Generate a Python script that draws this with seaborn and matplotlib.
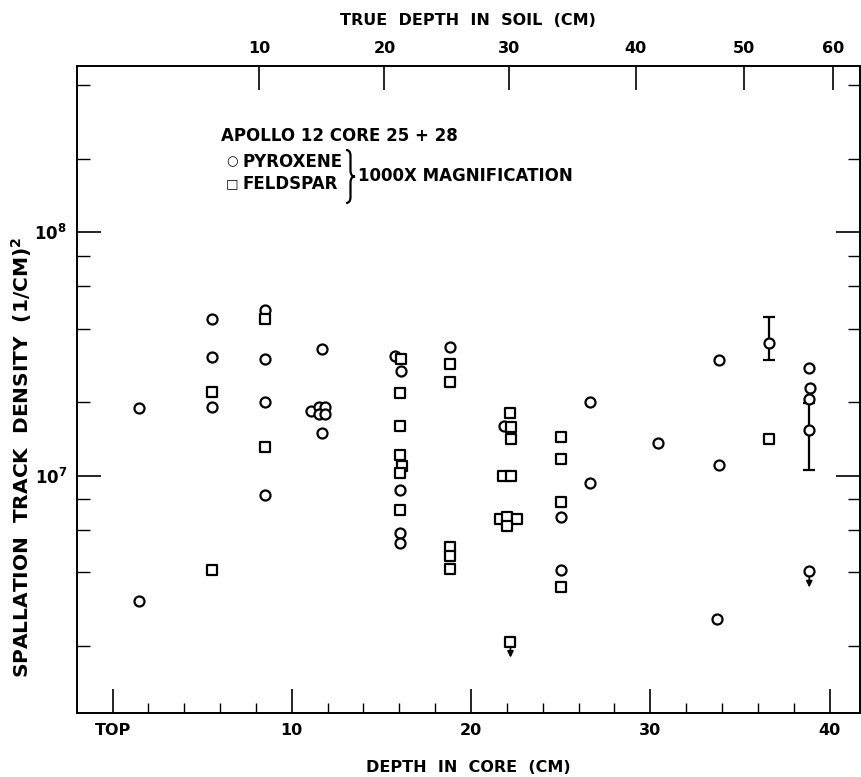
import numpy as np
import pandas as pd
import matplotlib
matplotlib.use("Agg")
import matplotlib.pyplot as plt
from matplotlib.path import Path
from matplotlib.patches import PathPatch
import seaborn as sns

# ---------------- data ----------------
pyx_depth = [1.5, 1.5, 5.55, 5.55, 5.55, 8.53, 8.53, 8.53, 8.53,
             11.66, 11.07, 11.52, 11.88, 11.52, 11.88, 11.66,
             15.78, 16.10, 16.06, 16.02, 16.06, 18.85, 21.82, 25.0, 25.0,
             26.66, 26.66, 30.41, 33.83, 33.83, 33.72, 36.64,
             38.87, 38.93, 38.87, 38.87, 38.87]
pyx_density = [1.90e7, 3.06e6, 4.40e7, 3.08e7, 1.92e7, 4.80e7, 3.00e7, 2.00e7, 8.36e6,
               3.32e7, 1.84e7, 1.91e7, 1.91e7, 1.79e7, 1.79e7, 1.50e7,
               3.11e7, 2.68e7, 8.71e6, 5.83e6, 5.31e6, 3.38e7, 1.60e7, 6.79e6, 4.10e6,
               2.01e7, 9.31e6, 1.36e7, 2.98e7, 1.11e7, 2.57e6, 3.51e7,
               2.77e7, 2.28e7, 2.07e7, 1.54e7, 4.04e6]

fel_depth = [5.55, 5.55, 8.53, 8.53,
             16.12, 16.06, 16.06, 16.06, 16.14, 16.06, 16.06,
             18.85, 18.85, 18.85, 18.85, 18.85,
             22.20, 22.25, 22.25, 21.78, 22.23, 21.60, 22.03, 22.55, 21.99, 22.20,
             25.0, 25.0, 25.0, 25.0, 36.64]
fel_density = [2.21e7, 4.10e6, 4.38e7, 1.31e7,
               3.00e7, 2.18e7, 1.59e7, 1.21e7, 1.096e7, 1.02e7, 7.23e6,
               2.87e7, 2.42e7, 5.08e6, 4.69e6, 4.13e6,
               1.80e7, 1.58e7, 1.41e7, 1.00e7, 1.00e7, 6.62e6, 6.79e6, 6.62e6, 6.22e6, 2.08e6,
               1.44e7, 1.17e7, 7.78e6, 3.50e6, 1.41e7]

# upper limits (points with a downward arrow)
lim_depth = [22.20, 38.87]
lim_density = [2.08e6, 4.04e6]

# error bars
err_depth = [36.64, 38.87]
err_low = [2.98e7, 1.05e7]
err_high = [4.47e7, 1.99e7]

# axes ticks
core_ticks = [0, 10, 20, 30, 40]
core_labels = ["TOP", "10", "20", "30", "40"]
core_minor = [2, 4, 6, 8, 12, 14, 16, 18, 22, 24, 26, 28, 32, 34, 36, 38]
true_labels = ["10", "20", "30", "40", "50", "60"]
true_pos_in_core = [8.16, 15.17, 22.10, 29.19, 35.23, 40.21]
y_major = [1e7, 1e8]
y_major_labels = [r"$\mathregular{10^7}$", r"$\mathregular{10^8}$"]
y_minor = [2e6, 4e6, 6e6, 8e6, 2e7, 4e7, 6e7, 8e7, 2e8, 4e8]

# ---------------- style ----------------
sns.set_theme(style="white")
plt.rcParams["font.family"] = ["DejaVu Sans"]
plt.rcParams["font.weight"] = "bold"
plt.rcParams["axes.labelweight"] = "bold"
plt.rcParams["mathtext.fontset"] = "custom"
plt.rcParams["mathtext.rm"] = "DejaVu Sans:bold"
for k in ["text.color", "axes.labelcolor", "xtick.color", "ytick.color", "axes.edgecolor"]:
    plt.rcParams[k] = "black"

W, H = 861, 777
fig = plt.figure(figsize=(W / 100, H / 100), dpi=100)
ax = fig.add_axes([76.7 / W, 1 - 713 / H, (860 - 76.7) / W, (713 - 66) / H])

df_p = pd.DataFrame({"depth": pyx_depth, "density": pyx_density})
df_f = pd.DataFrame({"depth": fel_depth, "density": fel_density})

# error bars first (behind markers)
for xd, lo, hi in zip(err_depth, err_low, err_high):
    ax.vlines(xd, lo, hi, color="black", lw=1.6, zorder=2)
    ax.plot([xd, xd], [lo, hi], marker="_", ms=9, mew=1.6, color="black", ls="none", zorder=2)

sns.scatterplot(data=df_p, x="depth", y="density", marker="o", s=52,
                color="white", edgecolor="black", linewidth=1.6, ax=ax, zorder=3, legend=False)
sns.scatterplot(data=df_f, x="depth", y="density", marker="s", s=44,
                color="white", edgecolor="black", linewidth=1.6, ax=ax, zorder=3, legend=False)

# downward arrows below upper-limit points
for xd, yd in zip(lim_depth, lim_density):
    ax.annotate("", xy=(xd, yd * 0.86), xytext=(xd, yd * 0.955),
                arrowprops=dict(arrowstyle="-|>", color="black", lw=1.2,
                                mutation_scale=9, shrinkA=0, shrinkB=0), zorder=4)

ax.set_yscale("log")
ax.set_xlim(-2.0, 41.7)
ax.set_ylim(1.06e6, 4.8e8)

ax.set_xticks(core_ticks)
ax.set_xticklabels(core_labels)
ax.set_xticks(core_minor, minor=True)
ax.set_yticks(y_major)
ax.set_yticklabels(y_major_labels)
ax.set_yticks(y_minor, minor=True)
ax.yaxis.set_minor_formatter(plt.NullFormatter())

ax.tick_params(axis="x", which="major", direction="in", length=17, width=1.2,
               labelsize=11.5, pad=7, bottom=True, top=False)
ax.tick_params(axis="x", which="minor", direction="in", length=7, width=1.0,
               bottom=True, top=False)
ax.tick_params(axis="y", which="major", direction="in", length=17, width=1.2,
               labelsize=12, pad=7, left=True, right=True)
ax.tick_params(axis="y", which="minor", direction="in", length=9, width=1.0,
               left=True, right=True)

for sp in ax.spines.values():
    sp.set_color("black")
    sp.set_linewidth(1.4)

ax.set_xlabel("DEPTH  IN  CORE  (CM)", fontsize=11.5, fontweight="bold", labelpad=16)
ax.set_ylabel("SPALLATION  TRACK  DENSITY  (1/CM)$\\mathregular{^2}$", fontsize=14.5,
              fontweight="bold")
ax.yaxis.set_label_coords(-0.054, 0.395)

# top axis: true depth in soil
ax2 = ax.twiny()
ax2.set_xlim(ax.get_xlim())
ax2.set_xticks(true_pos_in_core)
ax2.set_xticklabels(true_labels)
ax2.tick_params(axis="x", direction="in", length=17, width=1.2, labelsize=11.5, pad=7)
ax2.set_xlabel("TRUE  DEPTH  IN  SOIL  (CM)", fontsize=11.5, fontweight="bold", labelpad=12)
for sp in ax2.spines.values():
    sp.set_visible(False)

# legend block written as text
def fx(px):
    return px / W

def fy(py):
    return 1 - py / H

fig.text(fx(221), fy(136), "APOLLO 12 CORE 25 + 28", fontsize=12, va="center", ha="left")
fig.text(fx(226), fy(162), "○", fontsize=9.5, va="center", ha="left", fontweight="normal")
fig.text(fx(243), fy(162), "PYROXENE", fontsize=12, va="center", ha="left")
fig.text(fx(226), fy(184), "□", fontsize=9.5, va="center", ha="left", fontweight="normal")
fig.text(fx(243), fy(184), "FELDSPAR", fontsize=12, va="center", ha="left")
fig.text(fx(358), fy(176), "1000X MAGNIFICATION", fontsize=12, va="center", ha="left")

# curly brace "}" joining the two minerals
bx0, btop, bbot, bw = 346, 150, 203, 9
bmid = (btop + bbot) / 2
r = 6
verts = [(bx0, btop), (bx0 + bw / 2, btop), (bx0 + bw / 2, btop + r),
         (bx0 + bw / 2, bmid - r), (bx0 + bw / 2, bmid), (bx0 + bw, bmid),
         (bx0 + bw / 2, bmid), (bx0 + bw / 2, bmid + r),
         (bx0 + bw / 2, bbot - r), (bx0 + bw / 2, bbot), (bx0, bbot)]
codes = [Path.MOVETO, Path.CURVE3, Path.CURVE3, Path.LINETO, Path.CURVE3, Path.CURVE3,
         Path.CURVE3, Path.CURVE3, Path.LINETO, Path.CURVE3, Path.CURVE3]
verts = [(fx(a), fy(b)) for a, b in verts]
fig.patches.append(PathPatch(Path(verts, codes), transform=fig.transFigure,
                             fill=False, lw=1.6, edgecolor="black"))

fig.savefig("out.png", dpi=100)
